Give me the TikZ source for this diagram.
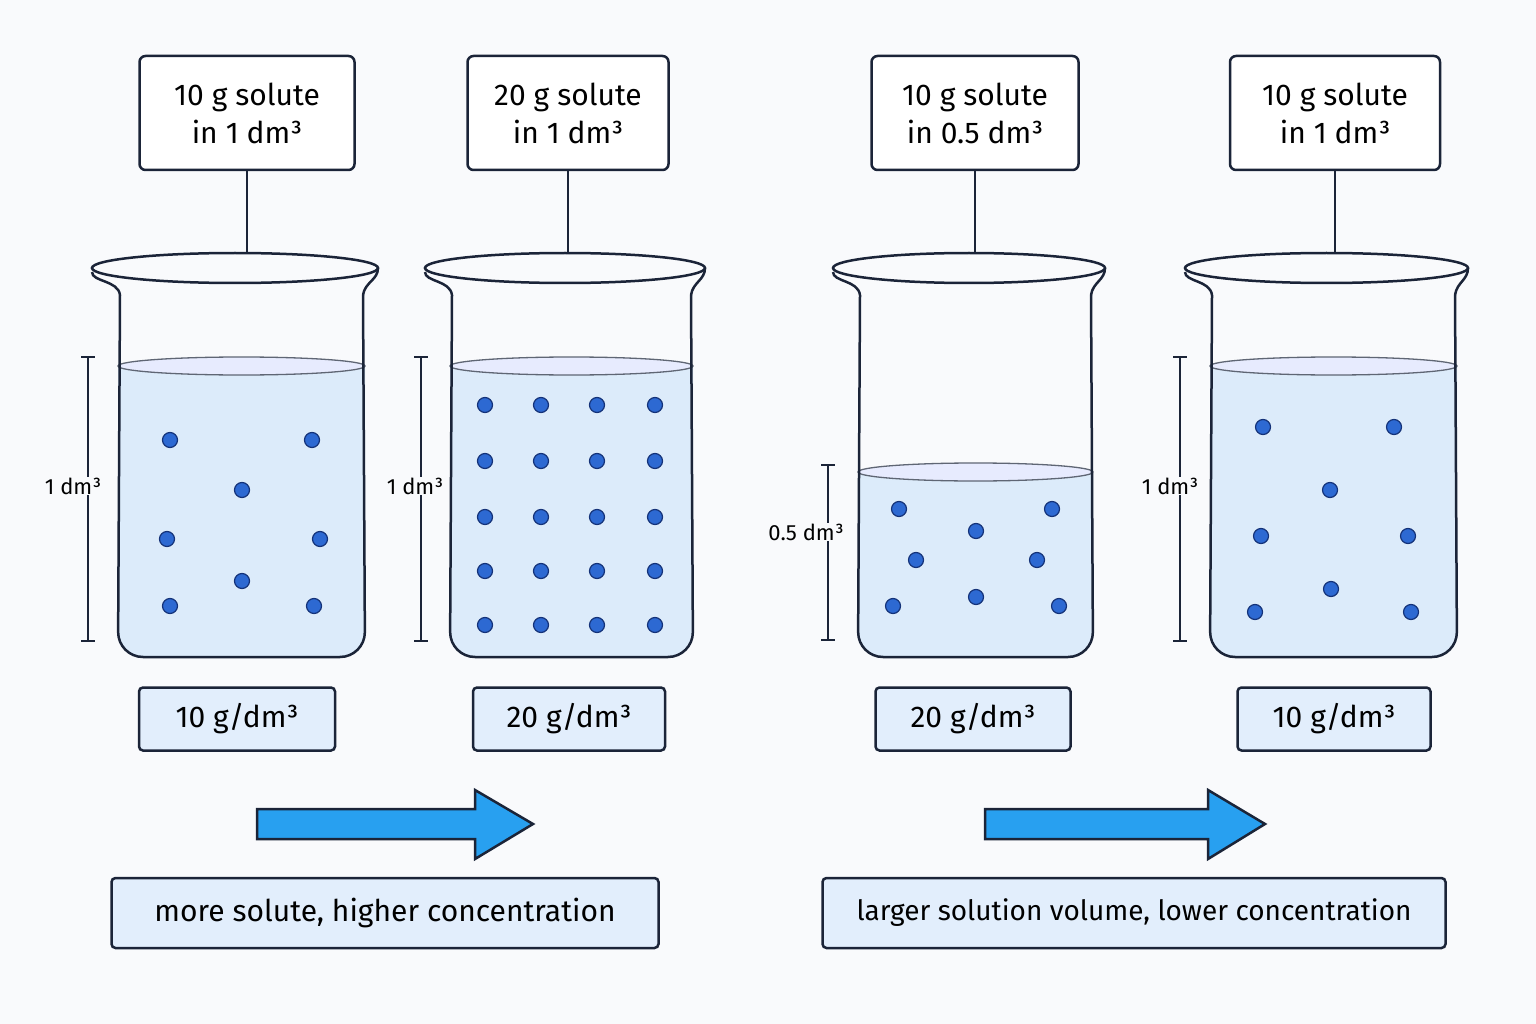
\documentclass[tikz,border=0pt]{standalone}
\usepackage{fontspec}
\setmainfont{Fira Sans}
\begin{document}
\begin{tikzpicture}[x=1pt,y=-1pt,
  top/.style={draw={rgb,255:red,27;green,36;blue,56},line width=2.5pt,rounded corners=6pt,fill=white,align=center,font=\fontsize{30}{38}\selectfont},
  low/.style={draw={rgb,255:red,27;green,36;blue,56},line width=2.5pt,rounded corners=4pt,fill={rgb,255:red,226;green,238;blue,252},font=\fontsize{30}{36}\selectfont},
  glass/.style={draw={rgb,255:red,27;green,36;blue,56},line width=2.5pt},
  dot/.style={circle,fill={rgb,255:red,45;green,105;blue,210},draw={rgb,255:red,20;green,50;blue,120},line width=1.2pt,minimum size=15pt,inner sep=0pt},
  scl/.style={draw={rgb,255:red,27;green,36;blue,56},line width=1.5pt},
  slab/.style={fill={rgb,255:red,249;green,250;blue,252},inner sep=1pt,font=\fontsize{22}{26}\selectfont},
  arr/.style={fill={rgb,255:red,40;green,160;blue,240},draw={rgb,255:red,27;green,36;blue,56},line width=2.5pt,line join=miter}]
\definecolor{liq}{RGB}{220,235,250}
\definecolor{ink}{RGB}{27,36,56}
\useasboundingbox[fill={rgb,255:red,249;green,250;blue,252}] (0,0) rectangle (1536,1024);
\newcommand{\mybeaker}[6]{%
  \fill[liq,rounded corners=25pt] (#1,#3) -- (#1,#4) -- (#2,#4) -- (#2,#3);
  \fill[liq] (#1,#3) rectangle (#2,#3+30);
  \draw[draw=ink!70,line width=1.3pt,fill=liq!80!blue!30] ({(#1+#2)/2},#3) ellipse[x radius={(#2-#1)/2},y radius=9];
  \draw[glass,rounded corners=25pt] (#1+2,295) -- (#1,#4) -- (#2,#4) -- (#2-2,295);
  \draw[glass] (#1+2,295) .. controls (#1,280) and (#5,282) .. (#5,272);
  \draw[glass] (#2-2,295) .. controls (#2,282) and (#6,280) .. (#6,268);
  \draw[glass] ({(#5+#6)/2},268) ellipse[x radius={(#6-#5)/2},y radius=15];
}
\mybeaker{118}{365}{366}{657}{92}{378}
\mybeaker{450}{693}{366}{657}{425}{705}
\mybeaker{858}{1093}{472}{657}{833}{1105}
\mybeaker{1210}{1457}{366}{657}{1185}{1468}
\node[top,minimum width=215pt,minimum height=114pt] (t1) at (247,113) {10 g solute\\in 1 dm³};
\node[top,minimum width=201pt,minimum height=114pt] (t2) at (568,113) {20 g solute\\in 1 dm³};
\node[top,minimum width=207pt,minimum height=114pt] (t3) at (975,113) {10 g solute\\in 0.5 dm³};
\node[top,minimum width=210pt,minimum height=114pt] (t4) at (1335,113) {10 g solute\\in 1 dm³};
\coordinate (r1) at (247,252); \coordinate (r2) at (568,252);
\coordinate (r3) at (975,252); \coordinate (r4) at (1335,252);
\foreach \i in {1,...,4}{\draw[glass] (t\i.south) -- (r\i);}
\foreach \x/\a/\b in {88/357/641,421/357/641,828/465/640,1180/357/641}{
  \draw[scl] (\x,\a) -- (\x,\b); \draw[scl] (\x-7,\a) -- (\x+7,\a); \draw[scl] (\x-7,\b) -- (\x+7,\b);}
\node[slab] (s1) at (73,486) {1 dm³};
\node[slab] (s2) at (415,486) {1 dm³};
\node[slab] (s3) at (806,532) {0.5 dm³};
\node[slab] (s4) at (1170,486) {1 dm³};
\foreach \x/\y in {170/440,312/440,242/490,167/539,320/539,242/581,170/606,314/606,
  899/509,976/531,1052/509,916/560,1037/560,893/606,976/597,1059/606,
  1263/427,1394/427,1330/490,1261/536,1408/536,1331/589,1255/612,1411/612}
  \node[dot] at (\x,\y) {};
\foreach \x in {485,541,597,655}\foreach \y in {405,461,517,571,625}\node[dot] at (\x,\y) {};
\node[low,minimum width=196pt,minimum height=63pt] (l1) at (237,719) {10 g/dm³};
\node[low,minimum width=192pt,minimum height=63pt] (l2) at (569,719) {20 g/dm³};
\node[low,minimum width=195pt,minimum height=63pt] (l3) at (973,719) {20 g/dm³};
\node[low,minimum width=193pt,minimum height=63pt] (l4) at (1334,719) {10 g/dm³};
\draw[arr] (257,809) -- (475,809) -- (475,790) -- (533,824) -- (475,859) -- (475,839) -- (257,839) -- cycle;
\draw[arr] (985,809) -- (1208,809) -- (1208,790) -- (1265,824) -- (1208,859) -- (1208,839) -- (985,839) -- cycle;
\node[low,minimum width=547pt,minimum height=70pt] (c1) at (385,913) {more solute, higher concentration};
\node[low,minimum width=623pt,minimum height=70pt,font=\fontsize{28}{34}\selectfont] (c2) at (1134,913) {larger solution volume, lower concentration};
\end{tikzpicture}
\end{document}
